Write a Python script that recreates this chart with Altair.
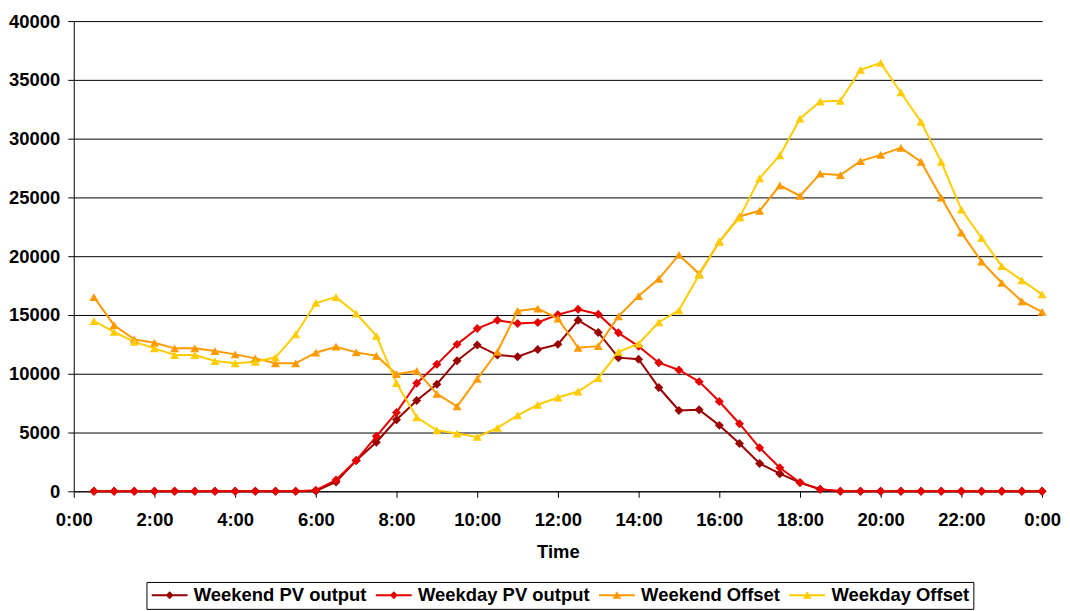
import altair as alt
import pandas as pd

hours = [0.5, 1.0, 1.5, 2.0, 2.5, 3.0, 3.5, 4.0, 4.5, 5.0, 5.5, 6.0,
         6.5, 7.0, 7.5, 8.0, 8.5, 9.0, 9.5, 10.0, 10.5, 11.0, 11.5, 12.0,
         12.5, 13.0, 13.5, 14.0, 14.5, 15.0, 15.5, 16.0, 16.5, 17.0, 17.5, 18.0,
         18.5, 19.0, 19.5, 20.0, 20.5, 21.0, 21.5, 22.0, 22.5, 23.0, 23.5, 24.0]

weekend_pv = [0, 0, 0, 0, 0, 0, 0, 0, 0, 0, 0, 30,
              790, 2620, 4170, 6090, 7730, 9110, 11110, 12440, 11590, 11450, 12070, 12500,
              14550, 13510, 11370, 11230, 8830, 6880, 6940, 5610, 4060, 2370, 1500, 740,
              170, 0, 0, 0, 0, 0, 0, 0, 0, 0, 0, 0]

weekday_pv = [0, 0, 0, 0, 0, 0, 0, 0, 0, 0, 0, 100,
              960, 2620, 4680, 6710, 9190, 10800, 12500, 13850, 14550, 14270, 14360, 15030,
              15480, 15060, 13480, 12330, 10940, 10320, 9330, 7640, 5750, 3700, 2000, 740,
              170, 0, 0, 0, 0, 0, 0, 0, 0, 0, 0, 0]

weekend_offset = [16520, 14130, 12920, 12630, 12160, 12160, 11930, 11650, 11310, 10890, 10890, 11790,
                  12300, 11820, 11530, 9960, 10240, 8290, 7220, 9560, 11870, 15340, 15540, 14700,
                  12210, 12350, 14890, 16610, 18080, 20110, 18500, 21230, 23380, 23860, 26030, 25130,
                  27020, 26900, 28090, 28620, 29220, 28030, 24990, 22000, 19540, 17740, 16160, 15260]

weekday_offset = [14470, 13560, 12720, 12160, 11590, 11590, 11080, 10890, 11020, 11400, 13340, 16020,
                  16520, 15120, 13230, 9200, 6290, 5190, 4910, 4630, 5390, 6460, 7360, 7980,
                  8490, 9620, 11870, 12550, 14380, 15400, 18420, 21230, 23290, 26630, 28570, 31700,
                  33160, 33220, 35850, 36440, 33930, 31420, 28030, 23970, 21550, 19150, 17940, 16750]

series_names = ["Weekend PV output", "Weekday PV output", "Weekend Offset", "Weekday Offset"]
series_values = [weekend_pv, weekday_pv, weekend_offset, weekday_offset]
series_colors = ["#990000", "#E60000", "#FF9900", "#FFCC00"]
marker_shapes = ["diamond", "diamond", "triangle-up", "triangle-up"]

x_ticks = [0, 2, 4, 6, 8, 10, 12, 14, 16, 18, 20, 22, 24]
y_ticks = [0, 5000, 10000, 15000, 20000, 25000, 30000, 35000, 40000]

LINE = "M-2.25,-0.125H2.25V0.125H-2.25Z "
DIAMOND_KEY = LINE + "M0,-0.5L0.5,0L0,0.5L-0.5,0Z"
TRIANGLE_KEY = LINE + "M0,-0.5L0.56,0.42L-0.56,0.42Z"
legend_shapes = [DIAMOND_KEY, DIAMOND_KEY, TRIANGLE_KEY, TRIANGLE_KEY]

rows = []
for k, (name, vals) in enumerate(zip(series_names, series_values)):
    for h, v in zip(hours, vals):
        rows.append({"hour": h, "value": v, "series": name, "k": k})
df = pd.DataFrame(rows)

FONT = "Liberation Sans"
FS = 18.5

x_enc = alt.X(
    "hour:Q",
    scale=alt.Scale(domain=[0, 24], nice=False, zero=False),
    axis=alt.Axis(
        values=x_ticks,
        labelExpr="(datum.value % 24) + ':00'",
        title="Time",
        grid=False,
        domainColor="black",
        tickColor="black",
        tickSize=6,
        labelPadding=13,
        titlePadding=14,
        labelFlush=False,
        labelOverlap=False,
    ),
)
y_enc = alt.Y(
    "value:Q",
    scale=alt.Scale(domain=[0, 40000], nice=False),
    axis=alt.Axis(
        values=y_ticks,
        format="d",
        title=None,
        grid=True,
        gridColor="black",
        gridWidth=1,
        domainColor="black",
        tickColor="black",
        tickSize=6,
        labelPadding=8,
        labelOverlap=False,
    ),
)

color_nolegend = alt.Color(
    "series:N",
    scale=alt.Scale(domain=series_names, range=series_colors),
    legend=None,
)

lines = alt.Chart(df).mark_line(strokeWidth=2).encode(
    x=x_enc, y=y_enc, color=color_nolegend, detail="series:N", order="hour:Q"
)

points = alt.Chart(df).mark_point(filled=True, size=81, opacity=1).encode(
    x=x_enc,
    y=y_enc,
    color=color_nolegend,
    shape=alt.Shape("series:N", scale=alt.Scale(domain=series_names, range=marker_shapes), legend=None),
)

legend_props = dict(
    title=None,
    orient="none",
    legendX=73,
    legendY=563,
    direction="horizontal",
    strokeColor="black",
    fillColor="white",
    padding=4,
    symbolSize=256,
    symbolOffset=10,
    labelOffset=15,
    columnPadding=8,
    labelFont=FONT,
    labelFontWeight="bold",
    labelFontSize=FS,
    labelColor="black",
    labelLimit=0,
    symbolOpacity=1,
    symbolStrokeWidth=0,
)

key_layer = alt.Chart(df).transform_filter("datum.value < 0").mark_point(filled=True, opacity=1).encode(
    x=x_enc,
    y=y_enc,
    color=alt.Color("series:N", scale=alt.Scale(domain=series_names, range=series_colors),
                    legend=alt.Legend(**legend_props)),
    shape=alt.Shape("series:N", scale=alt.Scale(domain=series_names, range=legend_shapes),
                    legend=alt.Legend(**legend_props)),
)

chart = (
    alt.layer(lines, points, key_layer)
    .resolve_scale(color="independent", shape="independent")
    .properties(
        width=972,
        height=472,
        autosize=alt.AutoSizeParams(type="none"),
        padding={"left": 66, "top": 12, "right": 20, "bottom": 118},
        background="white",
    )
    .configure_view(stroke=None)
    .configure_axis(
        labelFont=FONT,
        labelFontWeight="bold",
        labelFontSize=FS,
        labelColor="black",
        titleFont=FONT,
        titleFontWeight="bold",
        titleFontSize=FS,
        titleColor="black",
    )
)

chart.save("out.html", embed_options={"renderer": "svg", "actions": False})
